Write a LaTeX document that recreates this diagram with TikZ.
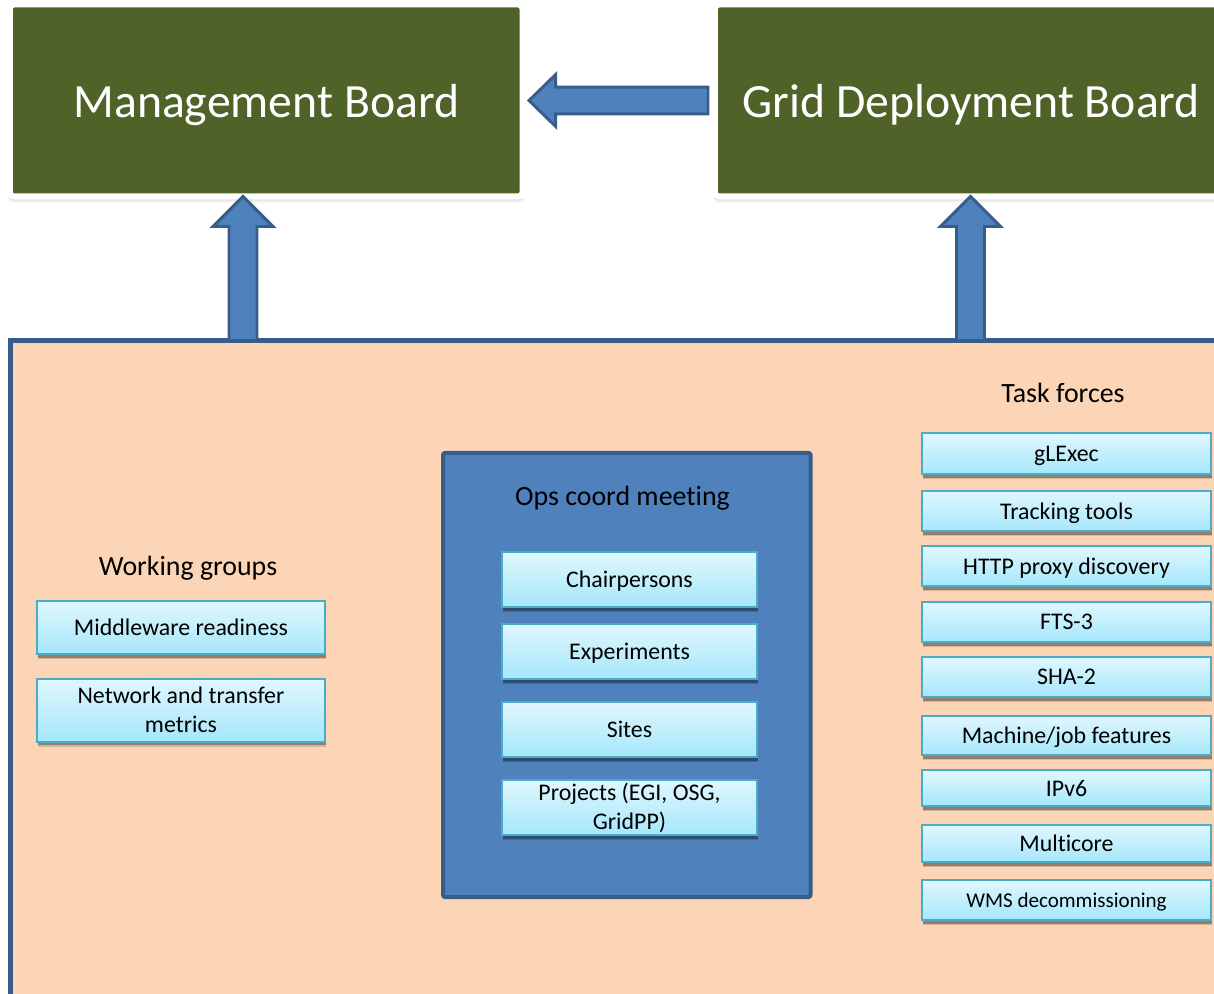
\documentclass[tikz,border=0pt]{standalone}
\usepackage{fontspec}
\setmainfont{Carlito}[Ligatures=NoCommon]
\usetikzlibrary{calc,shadows}

\definecolor{boardgreen}{RGB}{79,98,40}
\definecolor{peach}{RGB}{251,213,181}
\definecolor{opsblue}{RGB}{79,129,189}
\definecolor{darkblue}{RGB}{56,93,138}
\definecolor{aquaedge}{RGB}{75,172,198}
\definecolor{aquatop}{RGB}{224,247,254}
\definecolor{aquabot}{RGB}{165,231,251}

\begin{document}
\begin{tikzpicture}[x=0.75pt,y=0.75pt,yscale=-1,xscale=1,
    board/.style={fill=boardgreen, draw=white, line width=4.5pt, rounded corners=3pt,
        inner sep=0pt, outer sep=0pt,
        minimum width=384.4pt, minimum height=144pt, text=white, text depth=0pt,
        font=\fontsize{35.8}{43}\selectfont,
        drop shadow={shadow xshift=0pt, shadow yshift=-4.5pt, shadow scale=1.006, opacity=0.08},
        drop shadow={shadow xshift=0pt, shadow yshift=-3pt, shadow scale=1.004, opacity=0.14},
        drop shadow={shadow xshift=0pt, shadow yshift=-1.5pt, shadow scale=1.002, opacity=0.18}},
    title/.style={inner sep=0pt, text depth=0pt, font=\fontsize{20.9}{25}\selectfont},
    item/.style={draw=aquaedge, line width=1.5pt, top color=aquatop, bottom color=aquabot,
        inner sep=0pt, align=flush center, text depth=0pt, font=\fontsize{17.9}{21.75}\selectfont,
        drop shadow={shadow xshift=0.6pt, shadow yshift=-4pt, fill=black, opacity=0.15},
        drop shadow={shadow xshift=0.6pt, shadow yshift=-2.8pt, fill=black, opacity=0.3}},
    wgitem/.style={item, minimum width=216pt, text width=190pt},
    opsitem/.style={item, minimum width=191.25pt, minimum height=41.25pt, text width=170pt},
    tfitem/.style={item, minimum width=216.75pt, text width=200pt},
    barrow/.style={fill=opsblue, draw=darkblue, line width=2.2pt, line join=miter}]

    \clip (0,0) rectangle (1214,994);

    % boards
    \node [board] (mgmt) at (266.25,100.5) {Management Board};
    \node [board] (gdb) at (971.25,100.5) {Grid Deployment Board};

    % operations coordination area
    \node [fill=peach, draw=darkblue, line width=3.75pt, outer sep=0pt,
        minimum width=1000pt, minimum height=600pt, anchor=north west] (body) at (10.5,340.5) {};
    \draw [fill=opsblue, draw=darkblue, line width=3pt, rounded corners=1.5pt]
        (443,453) rectangle (810.5,897);

    % working groups
    \node [title] (wgtitle) at (188,565.5) {Working groups};
    \node [wgitem, minimum height=39.75pt] (mwready) at (181,627.5) {Middleware readiness};
    \node [wgitem, minimum height=47.25pt, text depth={}] (netmetrics) at (181,710) {Network and transfer metrics};

    % ops coord meeting
    \node [title] (opstitle) at (622.5,495.5) {Ops coord meeting};
    \node [opsitem] (chairs) at (629.5,579.5) {Chairpersons};
    \node [opsitem] (expts) at (629.5,651.5) {Experiments};
    \node [opsitem] (sites) at (629.5,729.5) {Sites};
    \node [opsitem, text depth={}] (projects) at (629.5,807.5) {Projects (EGI, OSG, GridPP)};

    % task forces
    \node [title] (tftitle) at (1063,392.5) {Task forces};
    \node [tfitem, minimum height=30.75pt] (glexec) at (1066.5,453.5) {gLExec};
    \node [tfitem, minimum height=30pt] (tracking) at (1066.5,511) {Tracking tools};
    \node [tfitem, minimum height=30pt] (httpproxy) at (1066.5,566) {HTTP proxy discovery};
    \node [tfitem, minimum height=30pt] (fts) at (1066.5,622) {FTS-3};
    \node [tfitem, minimum height=30pt] (sha) at (1066.5,677) {SHA-2};
    \node [tfitem, minimum height=29.25pt] (machjob) at (1066.5,735.5) {Machine/job features};
    \node [tfitem, minimum height=27pt] (ipv) at (1066.5,788) {IPv6};
    \node [tfitem, minimum height=27.75pt] (multicore) at (1066.5,843.5) {Multicore};
    \node [tfitem, minimum height=30pt, font=\fontsize{15.8}{19}\selectfont] (wms) at (1066.5,900) {WMS decommissioning};

    % reporting arrows
    \coordinate (mgmtin) at ($(body.north west)+(232.5,0)$);
    \coordinate (gdbin) at ($(body.north west)+(960,0)$);
    \coordinate (gdbout) at ($(gdb.west)+(-7,0)$);
    \coordinate (mgmtend) at ($(mgmt.east)+(6.5,0)$);

    \draw [barrow] ($(mgmtin)!10.5pt!90:(mgmtin |- mgmt.south)$)
        -- ($($(mgmtin |- mgmt.south)!22.5pt!(mgmtin)$)!10.5pt!-90:(mgmtin)$)
        -- ($($(mgmtin |- mgmt.south)!22.5pt!(mgmtin)$)!22.5pt!-90:(mgmtin)$)
        -- (mgmtin |- mgmt.south)
        -- ($($(mgmtin |- mgmt.south)!22.5pt!(mgmtin)$)!22.5pt!90:(mgmtin)$)
        -- ($($(mgmtin |- mgmt.south)!22.5pt!(mgmtin)$)!10.5pt!90:(mgmtin)$)
        -- ($(mgmtin)!10.5pt!-90:(mgmtin |- mgmt.south)$) -- cycle;
    \draw [barrow] ($(gdbin)!10.5pt!90:(gdbin |- gdb.south)$)
        -- ($($(gdbin |- gdb.south)!22.5pt!(gdbin)$)!10.5pt!-90:(gdbin)$)
        -- ($($(gdbin |- gdb.south)!22.5pt!(gdbin)$)!22.5pt!-90:(gdbin)$)
        -- (gdbin |- gdb.south)
        -- ($($(gdbin |- gdb.south)!22.5pt!(gdbin)$)!22.5pt!90:(gdbin)$)
        -- ($($(gdbin |- gdb.south)!22.5pt!(gdbin)$)!10.5pt!90:(gdbin)$)
        -- ($(gdbin)!10.5pt!-90:(gdbin |- gdb.south)$) -- cycle;
    \draw [barrow] ($(gdbout)!10pt!90:(mgmtend)$)
        -- ($($(mgmtend)!20pt!(gdbout)$)!10pt!-90:(gdbout)$)
        -- ($($(mgmtend)!20pt!(gdbout)$)!19.5pt!-90:(gdbout)$)
        -- (mgmtend)
        -- ($($(mgmtend)!20pt!(gdbout)$)!19.5pt!90:(gdbout)$)
        -- ($($(mgmtend)!20pt!(gdbout)$)!10pt!90:(gdbout)$)
        -- ($(gdbout)!10pt!-90:(mgmtend)$) -- cycle;
\end{tikzpicture}
\end{document}
